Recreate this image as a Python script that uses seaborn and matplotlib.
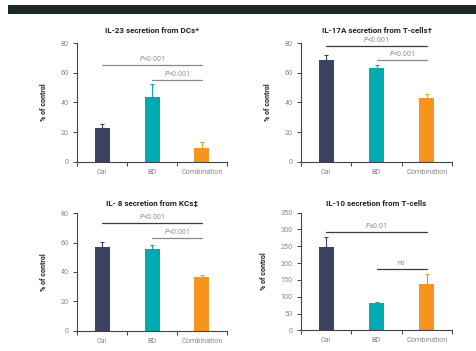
import numpy as np
import pandas as pd
import matplotlib
matplotlib.use("Agg")
import matplotlib.pyplot as plt
import seaborn as sns
from matplotlib.patches import Rectangle

# ==========================================
# DATA
# ==========================================
GROUPS = ["Cal", "BD", "Combination"]
COLORS = ["#3a4461", "#00aab0", "#f7941e"]

TITLES = [
    "IL-23 secretion from DCs*",
    "IL-17A secretion from T-cells\u2020",
    "IL- 8 secretion from KCs\u2021",
    "IL-10 secretion from T-cells",
]
MEANS = [
    [22.5, 44.0, 9.5],
    [68.5, 63.0, 43.0],
    [57.0, 56.0, 36.5],
    [248.0, 80.0, 138.0],
]
ERRORS = [
    [3.0, 8.5, 3.5],
    [3.5, 2.5, 2.5],
    [3.5, 2.5, 1.5],
    [31.0, 5.0, 29.0],
]
YMAX = [80, 80, 80, 350]
YSTEP = [20, 20, 20, 50]

# brackets: (from group, to group, height, label)
BRACKETS = [
    [(0, 2, 65.3, r"$\mathit{P}$<0.001"), (1, 2, 55.4, r"$\mathit{P}$<0.001")],
    [(0, 2, 78.0, r"$\mathit{P}$<0.001"), (1, 2, 68.7, r"$\mathit{P}$<0.001")],
    [(0, 2, 73.2, r"$\mathit{P}$<0.001"), (1, 2, 63.4, r"$\mathit{P}$<0.001")],
    [(0, 2, 293.5, "$\\mathit{P}$\u22640.01"), (1, 2, 182.5, "ns")],
]
BRACKET_COLORS = [
    ["#8a8a8a", "#8a8a8a"],
    ["#3a3a3a", "#8a8a8a"],
    ["#3a3a3a", "#8a8a8a"],
    ["#3a3a3a", "#3a3a3a"],
]

# ==========================================
# STYLE
# ==========================================
sns.set_theme(style="white")
plt.rcParams["font.family"] = ["Roboto", "DejaVu Sans"]
plt.rcParams["mathtext.fontset"] = "custom"
plt.rcParams["mathtext.it"] = "Roboto:italic"
plt.rcParams["mathtext.rm"] = "Roboto"

W, H = 477, 351
fig = plt.figure(figsize=(W / 100, H / 100), dpi=100)
fig.patch.set_facecolor("white")

# top dark band
fig.patches.append(Rectangle((8 / W, 1 - 14 / H), 1, 9 / H, transform=fig.transFigure,
                             facecolor="#1c2828", edgecolor="none"))

# axes boxes in pixels: left, right, top, bottom
BOXES = [
    (77, 227, 43.3, 161.7),
    (301, 452, 43.3, 161.7),
    (77, 227, 213.3, 330.7),
    (301, 452, 212.7, 330.3),
]
TITLE_PAD = [7.5, 7.5, 5.0, 5.0]

for i in range(4):
    l, r, t, b = BOXES[i]
    ax = fig.add_axes([l / W, 1 - b / H, (r - l) / W, (b - t) / H])
    df = pd.DataFrame({"group": GROUPS, "value": MEANS[i]})
    sns.barplot(data=df, x="group", y="value", hue="group", palette=COLORS,
                width=0.3, legend=False, ax=ax, errorbar=None,
                saturation=1, linewidth=0, edgecolor="none")
    for j in range(3):
        ax.errorbar(j, MEANS[i][j], yerr=[[0], [ERRORS[i][j]]], fmt="none",
                    ecolor=COLORS[j], elinewidth=0.8, capsize=1.6, capthick=0.8)

    ax.set_xlim(-0.5, 2.5)
    ax.set_ylim(0, YMAX[i])
    ax.set_yticks(np.arange(0, YMAX[i] + 1, YSTEP[i]))
    ax.set_xticks([-0.5, 0.5, 1.5, 2.5], minor=True)
    ax.tick_params(axis="x", which="major", length=0, pad=5, labelsize=5.2, labelcolor="#8a8a8a")
    ax.tick_params(axis="x", which="minor", length=3, width=0.7, color="#444444", direction="out", bottom=True)
    ax.tick_params(axis="y", length=3, width=0.7, color="#444444", direction="out", left=True,
                   pad=3, labelsize=5.2, labelcolor="#8a8a8a")
    for s in ["top", "right"]:
        ax.spines[s].set_visible(False)
    for s in ["left", "bottom"]:
        ax.spines[s].set_color("#444444")
        ax.spines[s].set_linewidth(0.8)

    ax.set_xlabel("")
    ax.set_ylabel("% of control", fontsize=5, fontweight="bold", color="#222222", labelpad=9)
    ax.set_title(TITLES[i], fontsize=5.8, fontweight="bold", color="#222222", pad=TITLE_PAD[i])

    for k, (g0, g1, yv, lab) in enumerate(BRACKETS[i]):
        ax.plot([g0, g1], [yv, yv], color=BRACKET_COLORS[i][k], lw=0.9, clip_on=False)
        ax.text((g0 + g1) / 2, yv + YMAX[i] * 0.018, lab, ha="center", va="bottom",
                fontsize=5, color="#8a8a8a")

fig.savefig("out.png", dpi=100, facecolor="white")
